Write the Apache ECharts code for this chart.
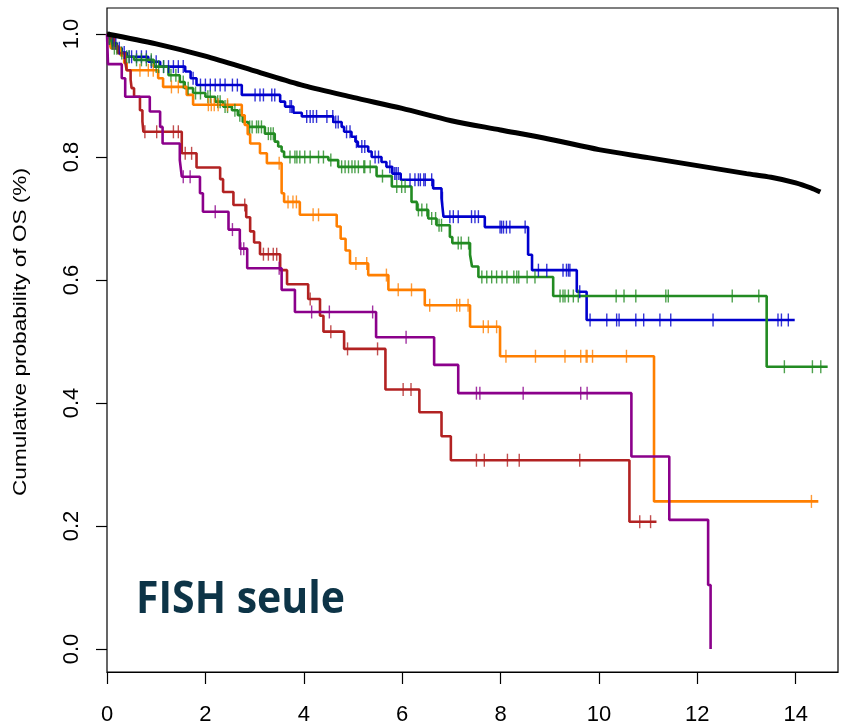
<!DOCTYPE html>
<html>
<head>
<meta charset="utf-8">
<script src="https://cdn.jsdelivr.net/npm/echarts@6/dist/echarts.min.js"></script>
<style>
  html, body { margin: 0; padding: 0; background: #fff; }
  #main { width: 841px; height: 726px; }
</style>
</head>
<body>
<div id="main"></div>
<script>
// reference (whole population) curve
const refTimes = [0, 1, 2, 3, 4, 5, 6, 7, 8, 9, 10, 11, 12, 13, 13.5, 14, 14.3, 14.5];
const refSurv = [1.0, 0.984, 0.964, 0.940, 0.916, 0.897, 0.879, 0.859, 0.844, 0.829, 0.812, 0.799, 0.786, 0.773, 0.767, 0.758, 0.750, 0.743];

// blue group
const blueTimes = [0.03, 0.10, 0.20, 0.30, 0.40, 0.84, 1.08, 1.59, 1.70, 1.82, 2.74, 3.52, 3.62, 3.79, 3.96, 4.60, 4.77, 4.82, 4.97, 5.05, 5.10, 5.31, 5.38, 5.58, 5.68, 5.80, 5.97, 6.63, 6.80, 6.84, 7.68, 8.56, 8.64, 9.55, 9.75];
const blueSurv = [0.993, 0.985, 0.977, 0.970, 0.963, 0.955, 0.947, 0.939, 0.928, 0.917, 0.901, 0.890, 0.882, 0.872, 0.866, 0.857, 0.849, 0.841, 0.833, 0.825, 0.817, 0.809, 0.800, 0.792, 0.784, 0.773, 0.763, 0.749, 0.733, 0.703, 0.686, 0.641, 0.616, 0.581, 0.535];
const blueEnd = 13.98;
const blueCensor = [0.05, 0.12, 0.18, 0.25, 0.35, 0.45, 0.5, 0.6, 0.7, 0.8, 0.9, 1.0, 1.15, 1.25, 1.35, 1.45, 1.55, 1.75, 1.9, 2.0, 2.1, 2.2, 2.3, 2.4, 2.55, 2.65, 3.01, 3.11, 3.18, 3.35, 3.41, 3.72, 3.75, 4.06, 4.13, 4.19, 4.26, 4.47, 4.59, 4.65, 4.70, 4.87, 4.94, 5.07, 5.18, 5.24, 5.45, 5.52, 5.75, 5.85, 5.88, 5.92, 6.16, 6.26, 6.33, 6.37, 6.44, 6.47, 6.60, 6.82, 6.97, 7.04, 7.14, 7.41, 7.48, 7.55, 7.99, 8.02, 8.06, 8.12, 8.19, 8.50, 8.77, 8.94, 9.27, 9.34, 9.38, 9.41, 9.61, 9.82, 10.16, 10.36, 10.41, 10.75, 10.91, 11.24, 11.46, 12.32, 13.64, 13.71, 13.85];

// green group
const greenTimes = [0.03, 0.08, 0.12, 0.25, 0.35, 0.55, 0.95, 1.25, 1.48, 1.58, 1.75, 2.00, 2.20, 2.36, 2.54, 2.66, 2.76, 2.87, 3.21, 3.41, 3.48, 3.55, 3.60, 4.50, 4.70, 5.48, 5.79, 6.19, 6.30, 6.53, 6.70, 6.97, 7.02, 7.38, 7.42, 7.55, 9.07, 13.41];
const greenSurv = [0.993, 0.985, 0.977, 0.969, 0.963, 0.958, 0.947, 0.933, 0.922, 0.912, 0.904, 0.898, 0.890, 0.882, 0.876, 0.868, 0.857, 0.849, 0.838, 0.825, 0.817, 0.809, 0.800, 0.795, 0.784, 0.769, 0.752, 0.727, 0.714, 0.700, 0.689, 0.670, 0.660, 0.641, 0.622, 0.605, 0.574, 0.459];
const greenEnd = 14.65;
const greenCensor = [0.05, 0.10, 0.15, 0.20, 0.30, 0.40, 0.45, 0.60, 0.70, 0.80, 0.90, 1.00, 1.05, 1.15, 1.30, 1.40, 1.55, 1.65, 1.80, 1.90, 2.05, 2.10, 2.25, 2.30, 2.40, 2.45, 2.60, 2.70, 2.90, 2.95, 3.04, 3.08, 3.14, 3.28, 3.33, 3.38, 3.72, 3.82, 3.86, 3.92, 4.02, 4.13, 4.30, 4.40, 4.55, 4.77, 4.84, 4.91, 4.98, 5.04, 5.11, 5.22, 5.24, 5.35, 5.60, 5.89, 5.99, 6.06, 6.33, 6.40, 6.50, 6.60, 6.68, 6.75, 6.80, 7.14, 7.20, 7.35, 7.62, 7.72, 7.82, 7.92, 8.03, 8.13, 8.27, 8.33, 8.37, 8.54, 8.70, 9.21, 9.27, 9.31, 9.38, 9.48, 9.58, 10.35, 10.51, 10.75, 11.36, 11.41, 12.71, 13.25, 13.77, 14.34, 14.51];

// orange group
const orangeTimes = [0.04, 0.08, 0.28, 0.35, 0.40, 1.04, 1.14, 1.62, 1.75, 2.74, 2.80, 2.86, 2.91, 3.11, 3.25, 3.55, 3.60, 3.92, 4.67, 4.75, 4.85, 4.94, 5.31, 5.72, 6.46, 7.38, 7.99, 11.12];
const orangeSurv = [0.988, 0.977, 0.965, 0.953, 0.941, 0.928, 0.914, 0.901, 0.885, 0.868, 0.852, 0.837, 0.822, 0.806, 0.790, 0.741, 0.727, 0.706, 0.687, 0.667, 0.648, 0.627, 0.608, 0.584, 0.559, 0.524, 0.476, 0.240];
const orangeEnd = 14.46;
const orangeCensor = [0.67, 0.84, 0.94, 1.31, 1.45, 2.06, 2.12, 2.18, 2.26, 2.45, 3.50, 3.68, 3.78, 3.85, 4.19, 4.30, 5.06, 5.28, 5.68, 5.92, 6.19, 6.56, 7.11, 7.17, 7.34, 7.65, 7.75, 7.92, 8.11, 8.71, 9.31, 9.63, 9.74, 9.76, 9.87, 10.56, 14.32];

// red group
const redTimes = [0.05, 0.15, 0.22, 0.37, 0.40, 0.48, 0.50, 0.55, 0.67, 0.72, 0.74, 1.52, 1.82, 2.30, 2.36, 2.57, 2.83, 2.91, 2.99, 3.11, 3.52, 3.66, 4.09, 4.33, 4.40, 4.82, 5.66, 6.35, 6.80, 6.99, 10.62];
const redSurv = [0.993, 0.981, 0.969, 0.955, 0.941, 0.926, 0.912, 0.898, 0.876, 0.858, 0.841, 0.806, 0.783, 0.764, 0.743, 0.722, 0.702, 0.679, 0.661, 0.642, 0.616, 0.593, 0.569, 0.542, 0.516, 0.488, 0.422, 0.385, 0.346, 0.307, 0.207];
const redEnd = 11.17;
const redCensor = [0.77, 1.01, 1.35, 1.45, 1.59, 1.72, 2.80, 3.18, 3.28, 3.38, 3.45, 4.13, 4.55, 4.89, 5.50, 6.02, 6.18, 7.51, 7.67, 8.14, 8.38, 9.61, 10.83, 11.05];

// purple group
const purpleTimes = [0.02, 0.30, 0.37, 0.87, 1.08, 1.13, 1.48, 1.52, 1.89, 1.95, 2.47, 2.70, 2.85, 3.55, 3.82, 5.47, 6.65, 7.14, 10.66, 11.43, 12.22, 12.27];
const purpleSurv = [0.951, 0.928, 0.898, 0.874, 0.849, 0.822, 0.795, 0.768, 0.741, 0.711, 0.682, 0.651, 0.619, 0.584, 0.548, 0.507, 0.462, 0.416, 0.313, 0.210, 0.104, 0.0];
const purpleEnd = 12.27;
const purpleCensor = [1.55, 1.69, 2.20, 2.55, 2.72, 2.78, 3.50, 4.16, 4.52, 5.40, 6.08, 7.51, 7.58, 8.46, 9.63, 9.76];

const xTicks = [0, 2, 4, 6, 8, 10, 12, 14];
const yTicks = [0, 0.2, 0.4, 0.6, 0.8, 1.0];

const groups = [
  { color: '#0000CD', t: blueTimes, s: blueSurv, end: blueEnd, c: blueCensor },
  { color: '#228B22', t: greenTimes, s: greenSurv, end: greenEnd, c: greenCensor },
  { color: '#FF7F00', t: orangeTimes, s: orangeSurv, end: orangeEnd, c: orangeCensor },
  { color: '#B22222', t: redTimes, s: redSurv, end: redEnd, c: redCensor },
  { color: '#8B008B', t: purpleTimes, s: purpleSurv, end: purpleEnd, c: purpleCensor }
];

function stepData(times, surv, end) {
  const d = [[0, 1]];
  times.forEach((t, i) => d.push([t, surv[i]]));
  if (end > times[times.length - 1]) d.push([end, surv[surv.length - 1]]);
  return d;
}

function survAt(times, surv, x) {
  let v = 1;
  for (let i = 0; i < times.length; i++) {
    if (times[i] <= x) v = surv[i];
  }
  return v;
}

const series = [];
groups.forEach(g => {
  series.push({
    type: 'line',
    step: 'end',
    data: stepData(g.t, g.s, g.end),
    symbol: 'none',
    lineStyle: { color: g.color, width: 2.6 },
    z: 3
  });
  series.push({
    type: 'scatter',
    data: g.c.map(x => [x, survAt(g.t, g.s, x)]),
    symbol: 'rect',
    symbolSize: [1.4, 13],
    itemStyle: { color: g.color },
    z: 4
  });
});
series.push({
  type: 'line',
  data: refTimes.map((t, i) => [t, refSurv[i]]),
  smooth: 0.3,
  symbol: 'none',
  lineStyle: { color: '#000', width: 5 },
  z: 5
});

const chart = echarts.init(document.getElementById('main'));
chart.setOption({
  animation: false,
  grid: {
    left: 107, right: 3, top: 8, bottom: 54,
    show: true, borderColor: '#000', borderWidth: 1.2, backgroundColor: 'transparent'
  },
  xAxis: {
    type: 'value',
    min: 0, max: 14.86,
    axisLine: { show: true, onZero: false, lineStyle: { color: '#000', width: 1.2 } },
    axisTick: { show: true, length: 12, customValues: xTicks, lineStyle: { color: '#000', width: 1.2 } },
    axisLabel: {
      customValues: xTicks, margin: 32,
      color: '#000', fontSize: 22,
      fontFamily: "'Liberation Sans', Arial"
    },
    splitLine: { show: false }
  },
  yAxis: {
    type: 'value',
    min: -0.0374, max: 1.0423,
    axisLine: { show: false },
    axisTick: { show: true, length: 11, customValues: yTicks, lineStyle: { color: '#000', width: 1.2 } },
    axisLabel: {
      customValues: yTicks, rotate: 90, margin: 24,
      color: '#000', fontSize: 22,
      fontFamily: "'Liberation Sans', Arial",
      formatter: v => v.toFixed(1)
    },
    splitLine: { show: false }
  },
  graphic: [
    {
      type: 'text', left: 11, top: 168, rotation: Math.PI / 2, scaleX: 1.19,
      style: {
        text: 'Cumulative probability of OS (%)',
        font: "19px 'Liberation Sans', Arial",
        fill: '#000'
      }
    },
    {
      type: 'text', left: 136, top: 578, scaleY: 1.1,
      style: {
        text: 'FISH seule',
        font: "bold 41px 'Open Sans', 'Liberation Sans', Arial",
        fill: '#0d3447'
      }
    }
  ],
  series: series
});
</script>
</body>
</html>
